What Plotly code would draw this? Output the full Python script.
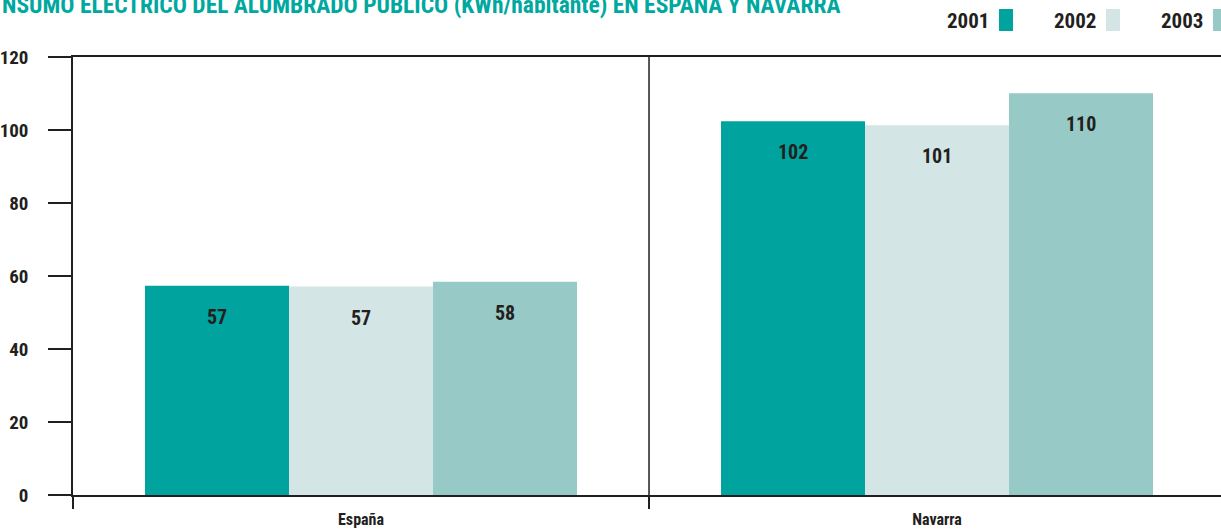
import plotly.graph_objects as go

categories = ["España", "Navarra"]
years = ["2001", "2002", "2003"]
values_2001 = [57.3, 102.4]
values_2002 = [57.1, 101.3]
values_2003 = [58.4, 110.1]
series = [values_2001, values_2002, values_2003]
colors = ["#00a39d", "#d3e6e5", "#97c9c7"]
y_ticks = [0, 20, 40, 60, 80, 100, 120]
title_text = "NSUMO ELÉCTRICO DEL ALUMBRADO PÚBLICO (KWh/habitante) EN ESPAÑA Y NAVARRA"

FONT = "Roboto Condensed, Open Sans Condensed, DejaVu Sans Condensed, sans-serif"
DARK = "#231f20"
TEAL = "#00a8a0"

W, H = 1221, 532
ML, MR, MT, MB = 73, 0, 57, 37
PW = W - ML - MR
PH = H - MT - MB


def px_x(p):
    return (p - ML) / PW


def px_y(p):
    return (H - MB - p) / PH


fig = go.Figure()
for name, vals, col in zip(years, series, colors):
    fig.add_trace(go.Bar(x=categories, y=vals, name=name, marker=dict(color=col, line=dict(width=0)),
                         hoverinfo="x+y+name"))

# bar value labels (inside, below top)
bar_px = 144
annotations = []
for i, vals in enumerate(series):
    for cat, v in zip(categories, vals):
        annotations.append(dict(x=cat, y=v, xref="x", yref="y", text=f"{v:.0f}", showarrow=False,
                                xshift=(i - 1) * bar_px, yshift=-31, yanchor="middle",
                                font=dict(family=FONT, size=20, color=DARK, weight="bold")))

# custom legend (text left of swatch)
shapes = []
leg_text_right = [991, 1098, 1205]
for yr, col, xr in zip(years, colors, leg_text_right):
    annotations.append(dict(x=px_x(xr), y=px_y(21), xref="paper", yref="paper", text=yr, showarrow=False,
                            xanchor="right", yanchor="middle",
                            font=dict(family=FONT, size=21, color=DARK, weight="bold")))
    shapes.append(dict(type="rect", xref="paper", yref="paper", x0=px_x(xr + 8), x1=px_x(xr + 22),
                       y0=px_y(31), y1=px_y(9), fillcolor=col, line=dict(width=0)))

# title
annotations.append(dict(x=px_x(0), y=px_y(-11), xref="paper", yref="paper", text=title_text, showarrow=False,
                        xanchor="left", yanchor="top",
                        font=dict(family=FONT, size=23.5, color=TEAL, weight="bold")))

# divider between categories
shapes.append(dict(type="line", xref="x", yref="y domain", x0=0.5, x1=0.5, y0=0, y1=1,
                   line=dict(color=DARK, width=1.5)))

fig.update_layout(
    width=W, height=H,
    margin=dict(l=ML, r=MR, t=MT, b=MB, pad=0, autoexpand=False),
    paper_bgcolor="white", plot_bgcolor="white",
    barmode="group", bargap=0.25, bargroupgap=0,
    showlegend=False,
    annotations=annotations, shapes=shapes,
    font=dict(family=FONT, color=DARK),
    xaxis=dict(type="category", range=[-0.5, 1.493], tickson="boundaries", ticks="outside", ticklen=12,
               tickwidth=1.5, tickcolor=DARK, showline=True, mirror=True, linecolor=DARK, linewidth=1.5,
               showgrid=False, zeroline=False, automargin=False, ticklabelstandoff=9,
               tickfont=dict(family=FONT, size=16, color=DARK, weight="bold")),
    yaxis=dict(range=[0, 120], tickvals=y_ticks, ticks="outside", ticklen=23, tickwidth=1.5, tickcolor=DARK,
               showline=True, linecolor=DARK, linewidth=1.5, showgrid=False, zeroline=False, automargin=False,
               ticklabelstandoff=16, tickfont=dict(family=FONT, size=19, color=DARK, weight="bold")),
)

fig.write_html("out.html", config={"displayModeBar": False},
               post_script="document.body.style.margin='0';document.body.style.overflow='hidden';")
